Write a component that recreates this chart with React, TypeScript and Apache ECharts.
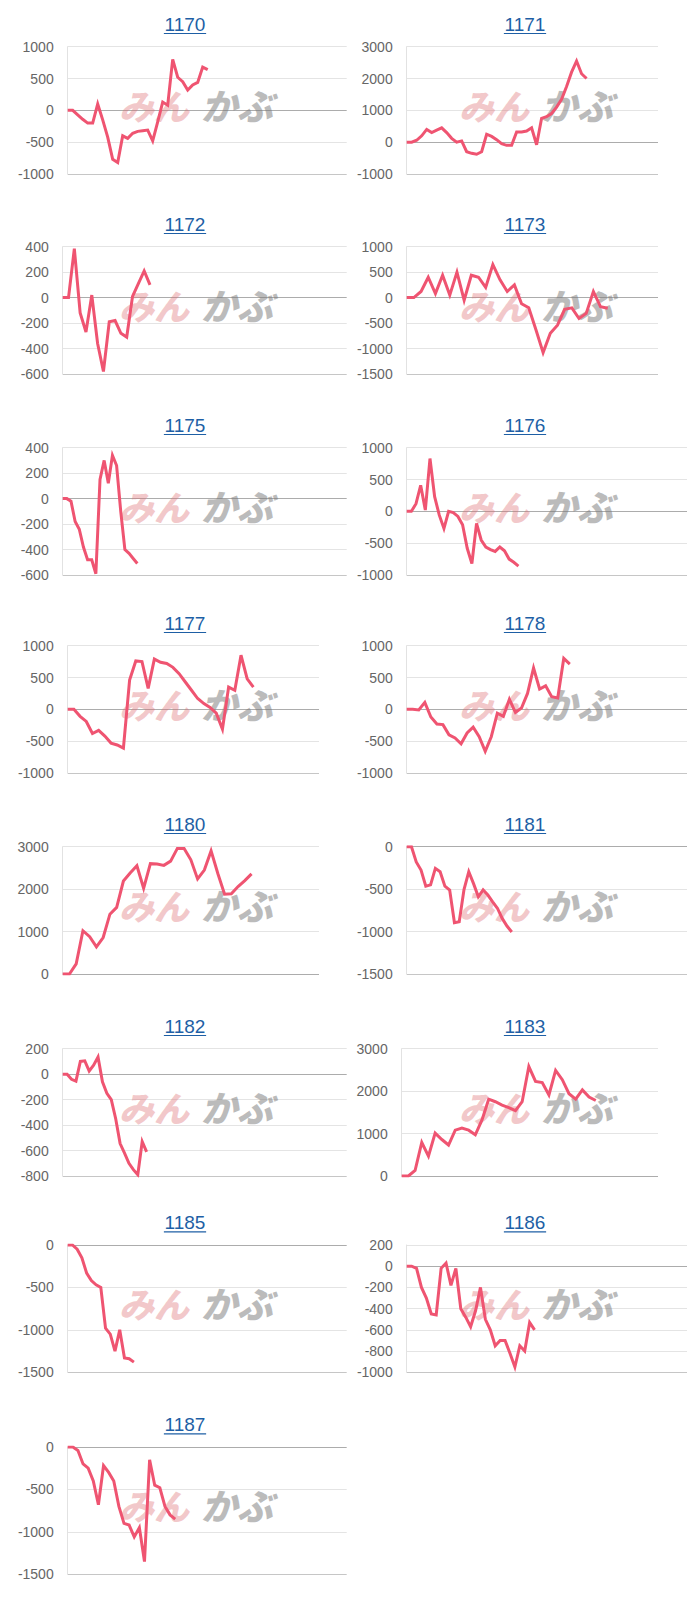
import React, { useEffect, useRef } from 'react';
import * as echarts from 'echarts';

// ---------- DATA ----------
const panelNames = ['1170', '1171', '1172', '1173', '1175', '1176', '1177', '1178', '1180', '1181', '1182', '1183', '1185', '1186', '1187'];

const yMins = [-1000, -1000, -600, -1500, -600, -1000, -1000, -1000, 0, -1500, -800, 0, -1500, -1000, -1500];
const yMaxs = [1000, 3000, 400, 1000, 400, 1000, 1000, 1000, 3000, 0, 200, 3000, 0, 200, 0];
const yIntervals = [500, 1000, 200, 500, 200, 500, 500, 500, 1000, 500, 200, 1000, 500, 200, 500];

const v1170 = [0, 0, -70, -140, -200, -200, 100, -150, -420, -770, -820, -400, -440, -360, -330, -320, -310, -480, -180, 130, 80, 800, 520, 450, 320, 400, 440, 680, 640];
const v1171 = [0, 0, 60, 200, 400, 300, 380, 450, 300, 120, 0, 40, -300, -350, -380, -300, 250, 180, 80, -50, -100, -100, 320, 320, 350, 450, -80, 750, 800, 900, 1100, 1350, 1750, 2200, 2550, 2150, 2000];
const v1172 = [0, 0, 385, -120, -270, 20, -360, -580, -190, -180, -280, -310, 10, 110, 210, 100];
const v1173 = [0, 0, 120, 400, 80, 440, 50, 500, -50, 440, 400, 200, 650, 350, 120, 250, -120, -200, -630, -1080, -700, -540, -230, -200, -410, -310, 120, -180, -210];
const v1175 = [0, 0, -20, -180, -240, -380, -480, -480, -590, 150, 300, 120, 340, 260, -100, -400, -430, -470, -510];
const v1176 = [0, 0, 120, 410, 20, 830, 230, -60, -270, 0, -20, -80, -210, -580, -820, -190, -450, -560, -600, -630, -560, -620, -750, -800, -860];
const v1177 = [0, 0, -110, -190, -380, -330, -420, -530, -560, -610, 460, 760, 750, 330, 790, 740, 720, 660, 560, 430, 300, 170, 90, 30, -60, -310, 350, 300, 850, 480, 350];
const v1178 = [0, 0, -10, 110, -120, -230, -240, -400, -450, -540, -370, -280, -430, -660, -430, -60, -110, 160, -50, 20, 250, 650, 320, 370, 200, 180, 800, 710];
const v1180 = [0, 0, 240, 1020, 880, 640, 860, 1410, 1570, 2190, 2380, 2550, 2020, 2600, 2590, 2560, 2660, 2960, 2960, 2690, 2240, 2450, 2900, 2370, 1880, 1890, 2060, 2200, 2360];
const v1181 = [0, 0, -180, -275, -465, -450, -255, -295, -465, -510, -895, -885, -505, -295, -435, -590, -510, -570, -650, -725, -845, -935, -1005];
const v1182 = [0, 0, -40, -55, 100, 105, 25, 70, 135, -60, -150, -200, -350, -545, -620, -700, -750, -790, -530, -610];
const v1183 = [0, 0, 130, 790, 470, 1010, 860, 730, 1080, 1130, 1080, 970, 1320, 1810, 1750, 1670, 1610, 1540, 1750, 2580, 2230, 2200, 1910, 2490, 2270, 1940, 1810, 2030, 1860, 1780];
const v1185 = [0, 0, -50, -150, -330, -420, -470, -500, -980, -1050, -1250, -1000, -1330, -1340, -1380];
const v1186 = [0, 0, -20, -200, -300, -450, -460, -20, 30, -180, -20, -400, -480, -570, -420, -200, -500, -600, -750, -700, -700, -820, -950, -750, -800, -530, -600];
const v1187 = [0, 0, -40, -200, -250, -400, -680, -220, -300, -400, -700, -900, -920, -1060, -950, -1350, -150, -450, -480, -700, -800, -850];

const seriesValues = [v1170, v1171, v1172, v1173, v1175, v1176, v1177, v1178, v1180, v1181, v1182, v1183, v1185, v1186, v1187];

// number of x slots spanned by each plot area (x axis extent)
const xSlots = [55.8, 50.3, 48.8, 35, 68.5, 60.2, 40.6, 46.4, 38, 58.7, 64.3, 38.3, 59, 57, 54.5];

// ---------- LAYOUT ----------
const rowTops = [46.7, 246.7, 447.7, 645.7, 846.7, 1048.7, 1245, 1447];
const plotHeight = 127.3;
const plotLefts = [67.7, 406.7, 62.7, 406.7, 62.7, 406.7, 67.7, 406.7, 62.7, 406.7, 62.7, 401.7, 67.7, 406.7, 67.7];
const plotRights = [346.7, 658, 346.7, 658, 346.7, 687, 319, 687, 319, 687, 346.7, 658, 346.7, 687, 346.7];
const titleCenters = [185, 525];

const FONT = 'Arial, "Liberation Sans", sans-serif';
const LINE_COLOR = '#ef5471';
const TITLE_COLOR = '#1e5fa5';

function buildOption() {
  const grid: any[] = [];
  const xAxis: any[] = [];
  const yAxis: any[] = [];
  const series: any[] = [];
  const graphic: any[] = [];

  panelNames.forEach((name, i) => {
    const row = Math.floor(i / 2);
    const col = i % 2;
    const top = rowTops[row];
    grid.push({
      left: plotLefts[i],
      top,
      width: plotRights[i] - plotLefts[i],
      height: plotHeight,
    });
    xAxis.push({
      gridIndex: i,
      type: 'value',
      min: 0,
      max: xSlots[i],
      axisLine: { show: false },
      axisTick: { show: false },
      axisLabel: { show: false },
      splitLine: { show: false },
    });
    const ticks: number[] = [];
    for (let t = yMins[i]; t <= yMaxs[i] + 1e-6; t += yIntervals[i]) ticks.push(t);
    const splitColors = ticks.map((t) => (t === 0 ? '#acacac' : t === yMins[i] ? '#c6c6c6' : '#e4e4e4'));
    yAxis.push({
      gridIndex: i,
      type: 'value',
      min: yMins[i],
      max: yMaxs[i],
      interval: yIntervals[i],
      axisLine: { show: true, lineStyle: { color: '#e2e2e2', width: 1 } },
      axisTick: { show: false },
      axisLabel: {
        fontSize: 14,
        color: '#666666',
        margin: 14,
        fontFamily: FONT,
        formatter: (v: number) => String(v),
      },
      splitLine: { show: true, lineStyle: { color: splitColors, width: 1 } },
    });
    series.push({
      type: 'line',
      xAxisIndex: i,
      yAxisIndex: i,
      data: seriesValues[i].map((v, j) => [j, v]),
      symbol: 'none',
      lineStyle: { color: LINE_COLOR, width: 3, join: 'miter' },
      z: 3,
    });

    const tx = titleCenters[col];
    const ty = top - 22.7;
    const tw = name.length * 0.556 * 19;
    graphic.push({
      type: 'text',
      x: tx,
      y: ty,
      style: {
        text: name,
        fill: TITLE_COLOR,
        font: '19px ' + FONT,
        align: 'center',
        verticalAlign: 'middle',
        textAlign: 'center',
        textVerticalAlign: 'middle',
      },
    });
    graphic.push({
      type: 'line',
      shape: { x1: tx - tw / 2, y1: ty + 9.5, x2: tx + tw / 2, y2: ty + 9.5 },
      style: { stroke: TITLE_COLOR, lineWidth: 1.2 },
    });
    // watermark
    graphic.push({
      type: 'text',
      x: tx - 66,
      y: ty + 80,
      z: 1,
      style: {
        text: 'みん',
        fill: 'rgba(222,110,115,0.38)',
        font: 'italic 900 35px "Noto Sans CJK JP"',
        align: 'left',
        verticalAlign: 'middle',
        textAlign: 'left',
        textVerticalAlign: 'middle',
      },
    });
    graphic.push({
      type: 'text',
      x: tx + 16,
      y: ty + 80,
      z: 1,
      style: {
        text: 'かぶ',
        fill: 'rgba(120,120,120,0.5)',
        font: 'italic 900 36px "Noto Sans CJK JP"',
        align: 'left',
        verticalAlign: 'middle',
        textAlign: 'left',
        textVerticalAlign: 'middle',
      },
    });
  });

  return {
    animation: false,
    backgroundColor: '#ffffff',
    grid,
    xAxis,
    yAxis,
    series,
    graphic,
  };
}

export default function App() {
  const ref = useRef<HTMLDivElement>(null);
  useEffect(() => {
    if (!ref.current) return;
    const chart = echarts.init(ref.current, undefined, { renderer: 'svg' });
    chart.setOption(buildOption() as any);
    return () => chart.dispose();
  }, []);
  return (
    <div
      ref={ref}
      style={{ position: 'absolute', left: 0, top: 0, width: 700, height: 1600, background: '#fff' }}
    />
  );
}
